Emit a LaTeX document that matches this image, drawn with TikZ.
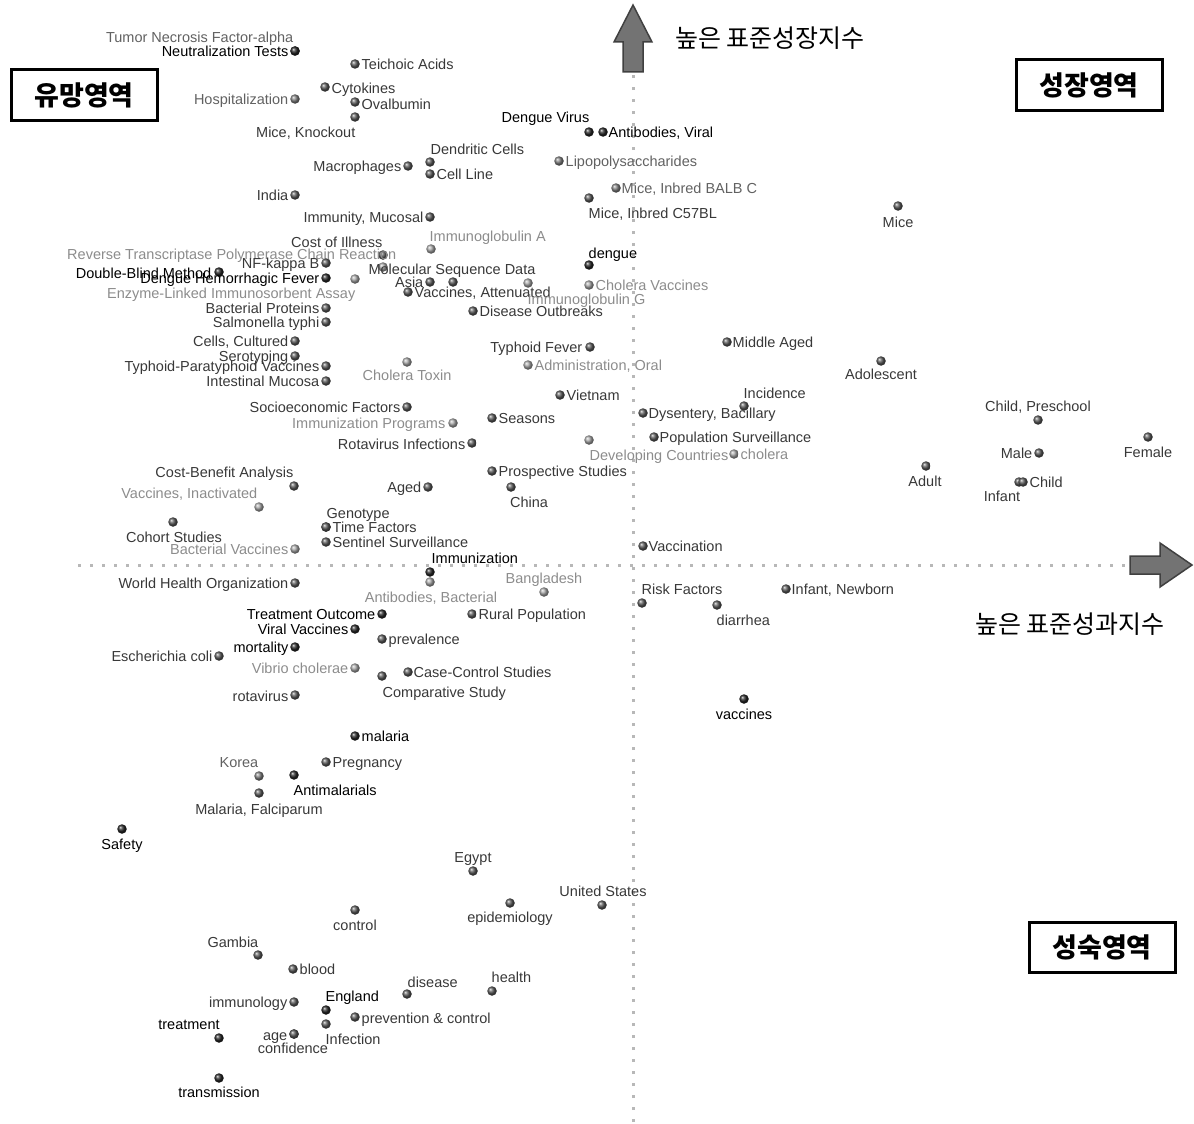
\documentclass[tikz,border=0pt]{standalone}
\usepackage{fontspec}
\setmainfont{Liberation Sans}
\newfontfamily\kr{Noto Sans CJK KR}
\tikzset{
  dot/.style={circle, inner sep=0pt, minimum size=9.5pt, shading=ball},
  dotk/.style={ball color=black!85},
  dotd/.style={ball color=black!65},
  dotm/.style={ball color=black!50},
  dotg/.style={ball color=black!35},
  lbl/.style={inner sep=0.5pt, text height=10.5pt, text depth=3pt, yshift=-2pt,
    font=\fontsize{14.5}{16}\selectfont},
  txtk/.style={text=black},
  txtd/.style={text=black!78},
  txtm/.style={text=black!62},
  txtg/.style={text=black!45},
  zone/.style={draw, line width=3pt, minimum width=146pt, minimum height=50pt,
    font=\kr\bfseries\fontsize{27}{30}\selectfont},
  axis/.style={draw=black!28, line width=3pt, dash pattern=on 3pt off 9pt},
  bigarrow/.style={fill=black!55, draw=black!75, line width=1.5pt, line join=miter},
  axtitle/.style={font=\kr\fontsize{25}{28}\selectfont}
}
% term: tone, name, dot x, dot y, label anchor, label x, label y, text
\newcommand{\kw}[8]{%
  \node[dot, dot#1] (#2) at (#3,#4) {};
  \node[lbl, txt#1, anchor=#5] (#2-t) at (#6,#7) {#8};
}
\begin{document}
\begin{tikzpicture}[x=1pt, y=-1pt]
\useasboundingbox (0,0) rectangle (1194,1124);

% axes
\coordinate (ytop) at (633,72);
\coordinate (ybot) at (633,1122);
\coordinate (xlft) at (78,565);
\coordinate (xrgt) at (1130,565);
\draw[axis] (ybot) -- (ytop);
\draw[axis] (xlft) -- (xrgt);

% upper left
\kw{m}{tnf}{295}{51}{east}{294}{37}{Tumor Necrosis Factor-alpha}
\kw{k}{neut}{295}{51}{east}{289}{51}{Neutralization Tests}
\kw{d}{teich}{355}{64}{west}{361}{64}{Teichoic Acids}
\kw{d}{cyto}{325}{87}{west}{331}{88}{Cytokines}
\kw{m}{hosp}{295}{99}{east}{289}{99}{Hospitalization}
\kw{d}{ovalb}{355}{102}{west}{361}{104}{Ovalbumin}
\kw{d}{miceko}{355}{117}{east}{356}{132}{Mice, Knockout}
\kw{k}{dengv}{589}{132}{east}{590}{117}{Dengue Virus}
\kw{k}{abvir}{603}{132}{west}{608}{132}{Antibodies, Viral}
\kw{d}{dendr}{430}{162}{west}{430}{149}{Dendritic Cells}
\kw{d}{cellln}{430}{174}{west}{436}{174}{Cell Line}
\kw{d}{macro}{408}{166}{east}{402}{166}{Macrophages}
\kw{m}{lps}{559}{161}{west}{565}{161}{Lipopolysaccharides}
\kw{m}{balbc}{616}{188}{west}{621}{188}{Mice, Inbred BALB C}
\kw{d}{c57bl}{589}{198}{west}{588}{213}{Mice, Inbred C57BL}
\kw{d}{india}{295}{195}{east}{289}{195}{India}
\kw{d}{immuc}{430}{217}{east}{424}{217}{Immunity, Mucosal}
\kw{g}{iga}{431}{249}{west}{429}{236}{Immunoglobulin A}
\kw{d}{coi}{383}{255}{east}{383}{242}{Cost of Illness}
\kw{g}{rtpcr}{383}{267}{east}{397}{254}{Reverse Transcriptase Polymerase Chain Reaction}
\kw{d}{nfkb}{326}{263}{east}{320}{263}{NF-kappa B}
\kw{k}{dbm}{219}{272}{east}{212}{273}{Double-Blind Method}
\kw{k}{dhf}{326}{278}{east}{320}{278}{Dengue Hemorrhagic Fever}
\kw{g}{elisa}{355}{279}{east}{356}{293}{Enzyme-Linked Immunosorbent Assay}
\kw{d}{molseq}{453}{282}{center}{452}{269}{Molecular Sequence Data}
\kw{d}{asia}{430}{282}{east}{424}{282}{Asia}
\kw{d}{vacatt}{408}{292}{west}{414}{292}{Vaccines, Attenuated}
\kw{g}{igg}{528}{283}{west}{527}{299}{Immunoglobulin G}
\kw{k}{dengue}{589}{265}{west}{588}{253}{dengue}
\kw{g}{cholvac}{589}{285}{west}{595}{285}{Cholera Vaccines}
\kw{d}{outbr}{473}{311}{west}{479}{311}{Disease Outbreaks}
\kw{d}{bacprot}{326}{308}{east}{320}{308}{Bacterial Proteins}
\kw{d}{salm}{326}{322}{east}{320}{322}{Salmonella typhi}
\kw{d}{cellcul}{295}{341}{east}{289}{341}{Cells, Cultured}
\kw{d}{sero}{295}{356}{east}{289}{356}{Serotyping}
\kw{d}{typvac}{326}{366}{east}{320}{366}{Typhoid-Paratyphoid Vaccines}
\kw{d}{intmuc}{326}{381}{east}{320}{381}{Intestinal Mucosa}
\kw{g}{choltox}{407}{362}{center}{407}{375}{Cholera Toxin}
\kw{d}{typfev}{590}{347}{east}{583}{347}{Typhoid Fever}
\kw{g}{admor}{528}{365}{west}{534}{365}{Administration, Oral}
\kw{d}{vietnam}{560}{395}{west}{566}{395}{Vietnam}
\kw{d}{seasons}{492}{418}{west}{498}{418}{Seasons}
\kw{d}{socio}{407}{407}{east}{401}{407}{Socioeconomic Factors}
\kw{g}{immprog}{453}{423}{east}{446}{423}{Immunization Programs}
\kw{d}{rotainf}{472}{443}{east}{466}{444}{Rotavirus Infections}
\kw{g}{devc}{589}{440}{west}{589}{455}{Developing Countries}
\kw{d}{prosp}{492}{471}{west}{498}{471}{Prospective Studies}
\kw{d}{china}{511}{487}{center}{529}{502}{China}
\kw{d}{aged}{428}{487}{east}{422}{487}{Aged}
\kw{d}{costben}{294}{486}{east}{294}{472}{Cost-Benefit Analysis}
\kw{g}{vacinact}{259}{507}{east}{258}{493}{Vaccines, Inactivated}
\kw{d}{cohort}{173}{522}{center}{174}{537}{Cohort Studies}
\kw{g}{bacvac}{295}{549}{east}{289}{549}{Bacterial Vaccines}
\kw{d}{genotype}{326}{527}{west}{326}{513}{Genotype}
\kw{d}{timef}{326}{527}{west}{332}{527}{Time Factors}
\kw{d}{sentinel}{326}{542}{west}{332}{542}{Sentinel Surveillance}
\kw{k}{immun}{430}{572}{west}{431}{558}{Immunization}

% upper right
\kw{d}{midage}{727}{342}{west}{732}{342}{Middle Aged}
\kw{d}{incid}{744}{406}{west}{743}{393}{Incidence}
\kw{d}{dysent}{643}{413}{west}{648}{413}{Dysentery, Bacillary}
\kw{d}{popsurv}{654}{437}{west}{659}{437}{Population Surveillance}
\kw{g}{cholera}{734}{454}{west}{740}{454}{cholera}
\kw{d}{vaccin}{643}{546}{west}{648}{546}{Vaccination}
\kw{d}{mice}{898}{206}{center}{898}{222}{Mice}
\kw{d}{adolesc}{881}{361}{center}{881}{374}{Adolescent}
\kw{d}{childpre}{1038}{420}{center}{1038}{406}{Child, Preschool}
\kw{d}{female}{1148}{437}{center}{1148}{452}{Female}
\kw{d}{male}{1039}{453}{east}{1033}{453}{Male}
\kw{d}{adult}{926}{466}{center}{925}{481}{Adult}
\kw{d}{infant}{1019}{482}{center}{1002}{496}{Infant}
\kw{d}{child}{1023}{482}{west}{1029}{482}{Child}

% lower left
\kw{g}{abbac}{430}{582}{center}{431}{597}{Antibodies, Bacterial}
\kw{g}{bangla}{544}{592}{center}{544}{578}{Bangladesh}
\kw{d}{who}{295}{583}{east}{289}{583}{World Health Organization}
\kw{k}{treatout}{382}{614}{east}{376}{614}{Treatment Outcome}
\kw{d}{rural}{472}{614}{west}{478}{614}{Rural Population}
\kw{k}{viralvac}{355}{629}{east}{349}{629}{Viral Vaccines}
\kw{d}{preval}{382}{639}{west}{388}{639}{prevalence}
\kw{k}{mortal}{295}{647}{east}{289}{647}{mortality}
\kw{d}{ecoli}{219}{656}{east}{213}{656}{Escherichia coli}
\kw{g}{vibrio}{355}{668}{east}{349}{668}{Vibrio cholerae}
\kw{d}{casectl}{408}{672}{west}{413}{672}{Case-Control Studies}
\kw{d}{compar}{382}{676}{west}{382}{692}{Comparative Study}
\kw{d}{rotav}{295}{695}{east}{289}{696}{rotavirus}
\kw{k}{malaria}{355}{736}{west}{361}{736}{malaria}
\kw{d}{pregn}{326}{762}{west}{332}{762}{Pregnancy}
\kw{m}{korea}{259}{776}{east}{259}{762}{Korea}
\kw{k}{antimal}{294}{775}{west}{293}{790}{Antimalarials}
\kw{d}{falcip}{259}{793}{center}{259}{809}{Malaria, Falciparum}
\kw{k}{safety}{122}{829}{center}{122}{844}{Safety}
\kw{d}{egypt}{473}{871}{center}{473}{857}{Egypt}
\kw{d}{usa}{602}{905}{center}{603}{891}{United States}
\kw{d}{epidem}{510}{903}{center}{510}{917}{epidemiology}
\kw{d}{control}{355}{910}{center}{355}{925}{control}
\kw{d}{gambia}{258}{955}{east}{259}{942}{Gambia}
\kw{d}{blood}{293}{969}{west}{299}{969}{blood}
\kw{d}{disease}{407}{994}{west}{407}{982}{disease}
\kw{d}{health}{492}{991}{west}{491}{977}{health}
\kw{d}{immunol}{294}{1002}{east}{288}{1002}{immunology}
\kw{k}{england}{326}{1010}{west}{325}{996}{England}
\kw{d}{prevctl}{355}{1017}{west}{361}{1018}{prevention \& control}
\kw{d}{infect}{326}{1024}{west}{325}{1039}{Infection}
\kw{k}{treat}{219}{1038}{center}{189}{1024}{treatment}
\kw{d}{confid}{294}{1034}{center}{293}{1048}{confidence}
\kw{d}{age}{294}{1034}{east}{288}{1035}{age}
\kw{k}{transm}{219}{1078}{center}{219}{1092}{transmission}

% lower right
\kw{d}{riskf}{642}{603}{west}{641}{589}{Risk Factors}
\kw{d}{diarr}{717}{605}{west}{716}{620}{diarrhea}
\kw{d}{infnew}{786}{589}{west}{791}{589}{Infant, Newborn}
\kw{k}{vaccines}{744}{699}{center}{744}{714}{vaccines}

% axis arrows and titles
\draw[bigarrow] (623,72) -- (623,42) -- (614,42) -- (633,5) -- (652,42)
  -- (643,42) -- (643,72) -- cycle;
\draw[bigarrow] (1130,556) -- (1160,556) -- (1160,543) -- (1192,565)
  -- (1160,587) -- (1160,574) -- (1130,574) -- cycle;
\node[axtitle] (growthidx) at (770,38) {높은 표준성장지수};
\node[axtitle] (perfidx) at (1070,624) {높은 표준성과지수};

% zone boxes
\node[zone] (promising) at (84,95) {유망영역};
\node[zone] (growing) at (1089,85) {성장영역};
\node[zone] (mature) at (1102,947) {성숙영역};
\end{tikzpicture}
\end{document}
